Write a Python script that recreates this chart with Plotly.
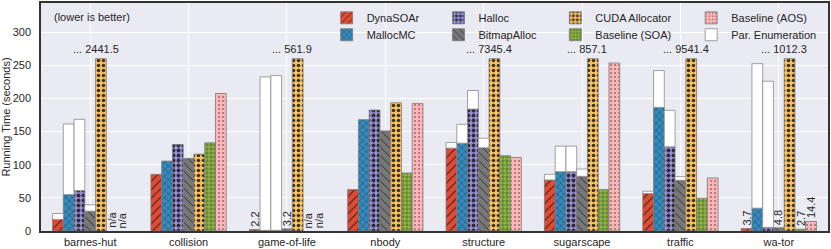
import plotly.graph_objects as go

categories = ["barnes-hut", "collision", "game-of-life", "nbody", "structure", "sugarscape", "traffic", "wa-tor"]

dynasoar = [17.5, 85.5, 2.2, 62.5, 125.0, 77.0, 56.5, 3.7]
mallocmc = [55.0, 105.5, 1.0, 168.0, 132.5, 89.5, 186.5, 34.5]
halloc = [61.0, 130.5, 1.0, 182.5, 184.0, 89.5, 127.0, 5.5]
bitmapalloc = [30.0, 109.5, 3.2, 151.0, 125.5, 82.5, 76.5, 4.8]
cuda_alloc = [2441.5, 116.0, 561.9, 193.5, 7345.4, 857.1, 9541.4, 1012.3]
baseline_soa = [None, 133.0, None, 87.5, 113.5, 62.5, 49.5, 2.7]
baseline_aos = [None, 207.5, None, 192.5, 111.0, 253.5, 80.0, 14.4]

# parallel enumeration time stacked on top of the allocator bars
dynasoar_enum = [9.0, 0, 0, 0, 8.5, 8.5, 3.5, 0]
mallocmc_enum = [106.5, 0, 231.5, 0, 28.5, 38.5, 55.5, 218.0]
halloc_enum = [107.5, 0, 233.5, 0, 28.0, 38.5, 55.0, 220.5]
bitmapalloc_enum = [9.5, 0, 0, 0, 14.5, 11.0, 5.5, 0]

y_cap = 260.0
y_ticks = [0, 50, 100, 150, 200, 250, 300]

FONT = "Liberation Sans, Arial, sans-serif"
TXT = "#262626"
EDGE = "#7a7a7a"

series = [
    ("DynaSOAr", dynasoar, dynasoar_enum, "#E24A33", dict(shape="/", size=6, solidity=0.18)),
    ("MallocMC", mallocmc, mallocmc_enum, "#348ABD", dict(shape="x", size=5, solidity=0.15)),
    ("Halloc", halloc, halloc_enum, "#988ED5", dict(shape=".", size=5, solidity=0.45)),
    ("BitmapAlloc", bitmapalloc, bitmapalloc_enum, "#777777", dict(shape="\\", size=6, solidity=0.15)),
    ("CUDA Allocator", cuda_alloc, None, "#FBC15E", dict(shape=".", size=5, solidity=0.4)),
    ("Baseline (SOA)", baseline_soa, None, "#8EBA42", dict(shape="+", size=4, solidity=0.2)),
    ("Baseline (AOS)", baseline_aos, None, "#FFB5B8", dict(shape=".", size=4, solidity=0.12)),
]

x_idx = list(range(len(categories)))
bargap = 0.235
nslots = len(series)
bw = (1 - bargap) / nslots

# legend placement (text start px, row center px)
leg_cols = [358, 470, 587, 723]
leg_rows = [16, 33]
plot_l, plot_r, plot_t, plot_b = 40, 828, 1, 231
W, H = 831, 249
legend_slots = {
    "DynaSOAr": (0, 0), "MallocMC": (0, 1), "Halloc": (1, 0), "BitmapAlloc": (1, 1),
    "CUDA Allocator": (2, 0), "Baseline (SOA)": (2, 1), "Baseline (AOS)": (3, 0),
    "Par. Enumeration": (3, 1),
}
legend_names = list(legend_slots.keys())

def legend_id(name):
    k = legend_names.index(name) + 1
    return "legend" if k == 1 else f"legend{k}"

fig = go.Figure()

for i, (name, vals, enum, color, pat) in enumerate(series):
    shown = [None if v is None else min(v, y_cap) for v in vals]
    fig.add_trace(go.Bar(
        x=x_idx, y=shown, name=name, offsetgroup=str(i),
        legend=legend_id(name), showlegend=True,
        marker=dict(color=color, line=dict(color=EDGE, width=0.8),
                    pattern=dict(fgcolor="#1a1a1a", bgcolor=color, fgopacity=0.85,
                                 fillmode="overlay", **pat)),
    ))

first = True
for i, (name, vals, enum, color, pat) in enumerate(series):
    if enum is None:
        continue
    fig.add_trace(go.Bar(
        x=x_idx, y=[e if e else None for e in enum], base=vals,
        name="Par. Enumeration", offsetgroup=str(i), legendgroup="enum",
        showlegend=first, legend=legend_id("Par. Enumeration"),
        marker=dict(color="white", line=dict(color="#8a8a8a", width=0.8)),
    ))
    first = False

annotations = []
# truncated CUDA bars
for k, v in enumerate(cuda_alloc):
    if v > y_cap:
        annotations.append(dict(
            x=k + (4 - 3) * bw - bw / 2, y=y_cap, xref="x", yref="y",
            text=f"... {v}", showarrow=False, xanchor="center", yanchor="bottom",
            yshift=2, font=dict(size=11, color=TXT, family=FONT)))

# small values and n/a labels
for i, (name, vals, enum, color, pat) in enumerate(series):
    for k, v in enumerate(vals):
        has_enum = enum is not None and enum[k]
        if v is None:
            txt, yv = "n/a", 0
        elif v < 15 and not has_enum:
            txt, yv = f"{v}", v
        else:
            continue
        annotations.append(dict(
            x=k + (i - 3) * bw, y=yv, xref="x", yref="y", text=txt, textangle=-90,
            showarrow=False, xanchor="center", yanchor="bottom", yshift=1,
            font=dict(size=11, color=TXT, family=FONT)))

annotations.append(dict(
    x=(51 - plot_l) / (plot_r - plot_l), y=(plot_b - 15) / (plot_b - plot_t),
    xref="paper", yref="paper", text="(lower is better)", showarrow=False,
    xanchor="left", yanchor="middle", font=dict(size=11, color=TXT, family=FONT)))

layout_legends = {}
for name, (c, r) in legend_slots.items():
    lx = (leg_cols[c] - 32 - plot_l) / (plot_r - plot_l)
    ly = (plot_b - leg_rows[r]) / (plot_b - plot_t)
    layout_legends[legend_id(name)] = dict(
        x=lx, y=ly, xanchor="left", yanchor="middle", bgcolor="rgba(0,0,0,0)",
        borderwidth=0, font=dict(size=11, color=TXT, family=FONT), itemwidth=30)

fig.update_layout(
    width=W, height=H,
    margin=dict(l=plot_l, r=W - plot_r, t=plot_t, b=H - plot_b),
    barmode="group", bargap=bargap, bargroupgap=0,
    plot_bgcolor="#EAEAF2", paper_bgcolor="white",
    font=dict(family=FONT, size=11, color=TXT),
    showlegend=True,
    annotations=annotations,
    **layout_legends,
)
fig.update_xaxes(
    range=[-0.5, len(categories) - 0.5], tickvals=x_idx, ticktext=categories,
    showgrid=True, gridcolor="white", gridwidth=1, zeroline=False,
    showline=True, mirror=True, linecolor="#333333", linewidth=1.5,
    ticks="", tickfont=dict(size=11, color=TXT, family=FONT),
)
fig.update_yaxes(
    range=[0, 344], tickvals=y_ticks, showgrid=True, gridcolor="white", gridwidth=1,
    zeroline=False, showline=True, mirror=True, linecolor="#333333", linewidth=1.5,
    ticks="", ticklabelstandoff=6, tickfont=dict(size=11, color=TXT, family=FONT),
    title=dict(text="Running Time (seconds)", standoff=4, font=dict(size=11, color=TXT, family=FONT)),
)

fig.write_html("out.html", config={"displayModeBar": False},
               post_script="document.body.style.margin='0';")
